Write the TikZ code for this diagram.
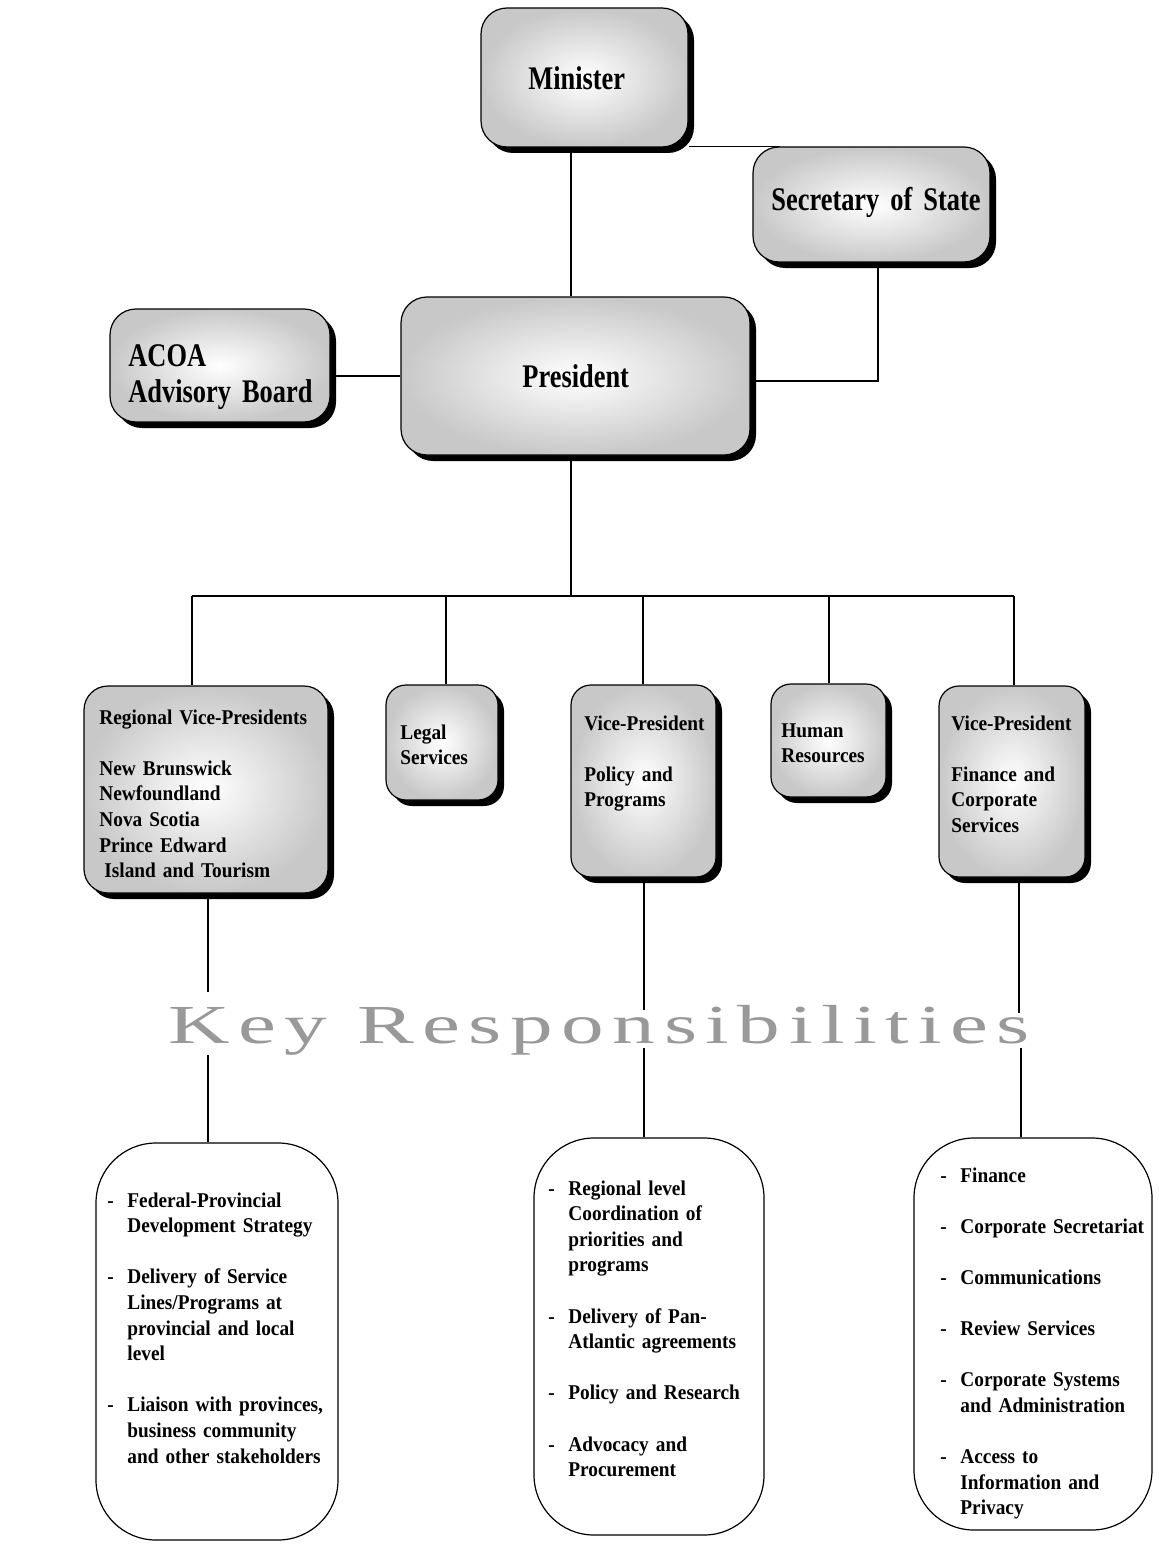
\documentclass[tikz,border=0pt]{standalone}
\usepackage{fontspec}
\setmainfont{Liberation Serif}
\newfontfamily\topf[FakeStretch=0.8]{Liberation Serif}
\newfontfamily\midf[FakeStretch=0.92]{Liberation Serif}
\newfontfamily\keyf[LetterSpace=10]{Liberation Serif}
\usetikzlibrary{shadows}
\pgfdeclarelayer{bg}
\pgfsetlayers{bg,main}
\definecolor{keygray}{HTML}{999999}
\definecolor{boxedge}{HTML}{C8C8C8}
\newcommand{\kdash}{\makebox[10pt][l]{-}}
\newcommand{\kind}{\hspace*{10pt}}
\tikzset{
  gbox/.style={draw=black, line width=0.6pt, inner sep=0pt,
    shading=radial, inner color=white, outer color=boxedge,
    general shadow={fill=black, shadow xshift=3pt, shadow yshift=-3pt}},
  tbox/.style={gbox, rounded corners=13pt},
  rbox/.style={gbox, rounded corners=10pt},
  kbox/.style={draw=black, line width=0.6pt, fill=white, inner sep=0pt, rounded corners=30pt},
  conn/.style={line width=0.6pt},
  toplbl/.style={anchor=base west, inner sep=0pt, align=left, text width=#1,
    font=\topf\bfseries\fontsize{16.5}{18}\selectfont},
  midlbl/.style={anchor=base west, inner sep=0pt, align=left, text width=#1,
    font=\midf\bfseries\fontsize{10.5}{12.8}\selectfont},
}
\begin{document}
\begin{tikzpicture}[x=0.5pt, y=-0.5pt]
\useasboundingbox (0,0) rectangle (1159,1562);
% ---------- boxes ----------
\node[tbox, minimum width=103.5pt, minimum height=69.5pt] (min) at (584.5,77.5) {};
\node[tbox, minimum width=118.5pt, minimum height=57.5pt] (sec) at (871.5,204.5) {};
\node[tbox, minimum width=174.5pt, minimum height=79pt] (pres) at (575.5,376) {};
\node[tbox, minimum width=110pt, minimum height=56.5pt] (acoa) at (220,365.5) {};

\node[rbox, rounded corners=12pt, minimum width=122pt, minimum height=103.5pt] (reg) at (206,789.5) {};
\node[rbox, minimum width=56pt, minimum height=57.5pt] (leg) at (442,742.5) {};
\node[rbox, minimum width=72.5pt, minimum height=96pt] (pol) at (643.5,781) {};
\node[rbox, minimum width=57.5pt, minimum height=56.5pt] (hr) at (828.5,740.5) {};
\node[rbox, minimum width=73pt, minimum height=95.5pt] (fin) at (1012,781.5) {};

\node[kbox, minimum width=121pt, minimum height=198.5pt] (kreg) at (217,1341.5) {};
\node[kbox, minimum width=115pt, minimum height=198.5pt] (kpol) at (649,1336.5) {};
\node[kbox, minimum width=119pt, minimum height=196pt] (kfin) at (1033,1334) {};

% ---------- texts ----------
\node[toplbl=100pt] (tmin) at (528,90) {Minister};
\node[toplbl=120pt] (tsec) at (771,211) {Secretary of State};
\node[toplbl=100pt] (tpres) at (522,387) {President};
\node[toplbl=110pt] (tacoa) at (128,366) {ACOA\\Advisory Board};

\node[midlbl=115pt] (treg) at (99,724) {Regional Vice-Presidents\\[12.8pt]New Brunswick\\Newfoundland\\Nova Scotia\\Prince Edward\\\hspace*{2.5pt}Island and Tourism};
\node[midlbl=50pt] (tleg) at (400,739) {Legal\\Services};
\node[midlbl=65pt] (tpol) at (584,730) {Vice-President\\[12.8pt]Policy and\\Programs};
\node[midlbl=52pt] (thr) at (781,737) {Human\\Resources};
\node[midlbl=65pt] (tfin) at (951,730) {Vice-President\\[12.8pt]Finance and\\Corporate\\Services};

\node[midlbl=120pt] (tkreg) at (107,1207) {\kdash Federal-Provincial\\\kind Development Strategy\\[12.8pt]\kdash Delivery of Service\\\kind Lines/Programs at\\\kind provincial and local\\\kind level\\[12.8pt]\kdash Liaison with provinces,\\\kind business community\\\kind and other stakeholders};
\node[midlbl=110pt] (tkpol) at (548,1195) {\kdash Regional level\\\kind Coordination of\\\kind priorities and\\\kind programs\\[12.8pt]\kdash Delivery of Pan-\\\kind Atlantic agreements\\[12.8pt]\kdash Policy and Research\\[12.8pt]\kdash Advocacy and\\\kind Procurement};
\node[midlbl=110pt] (tkfin) at (940,1182) {\kdash Finance\\[12.8pt]\kdash Corporate Secretariat\\[12.8pt]\kdash Communications\\[12.8pt]\kdash Review Services\\[12.8pt]\kdash Corporate Systems\\\kind and Administration\\[12.8pt]\kdash Access to\\\kind Information and\\\kind Privacy};

\node[anchor=base, inner sep=0pt, text=keygray] (key) at (599,1043)
  {\scalebox{1.55}[1]{\keyf\fontsize{27.5}{30}\selectfont Key Responsibilities}};

% ---------- connectors ----------
\coordinate (xa) at (571,0);
\coordinate (xs) at (878,0);
\coordinate (xm) at (780,0);
\coordinate (yp) at (0,381);
\coordinate (ya) at (0,376);
\coordinate (b1) at (192,596);
\coordinate (b2) at (446,596);
\coordinate (b3) at (643,596);
\coordinate (b4) at (829,596);
\coordinate (b5) at (1014,596);
\coordinate (bm) at (571,596);
\coordinate (k1a) at (208,992);
\coordinate (k1b) at (208,1055);
\coordinate (k2a) at (644,1010);
\coordinate (k2b) at (644,1048);
\coordinate (k3a) at (1019,1013);
\coordinate (k3b) at (1021,1048);
\begin{pgfonlayer}{bg}
\fill[white] (0,0) rectangle (1159,1562);
\draw[conn] (min.south -| xa) -- (pres.north -| xa);
\draw[conn] ([yshift=0.5pt]min.south east) -- ([yshift=0.5pt]min.south east -| xm);
\draw[conn] (sec.south -| xs) |- (pres.east |- yp);
\draw[conn] (acoa.east |- ya) -- (pres.west |- ya);
\draw[conn] (pres.south -| xa) -- (bm);
\draw[conn] (b1) -- (b5);
\draw[conn] (b1) -- (reg.north -| b1);
\draw[conn] (b2) -- (leg.north -| b2);
\draw[conn] (b3) -- (pol.north -| b3);
\draw[conn] (b4) -- (hr.north -| b4);
\draw[conn] (b5) -- (fin.north -| b5);
\draw[conn] (reg.south -| k1a) -- (k1a);
\draw[conn] (k1b) -- (kreg.north -| k1b);
\draw[conn] (pol.south -| k2a) -- (k2a);
\draw[conn] (k2b) -- (kpol.north -| k2b);
\draw[conn] (fin.south -| k3a) -- (k3a);
\draw[conn] (k3b) -- (kfin.north -| k3b);
\end{pgfonlayer}
\end{tikzpicture}
\end{document}
